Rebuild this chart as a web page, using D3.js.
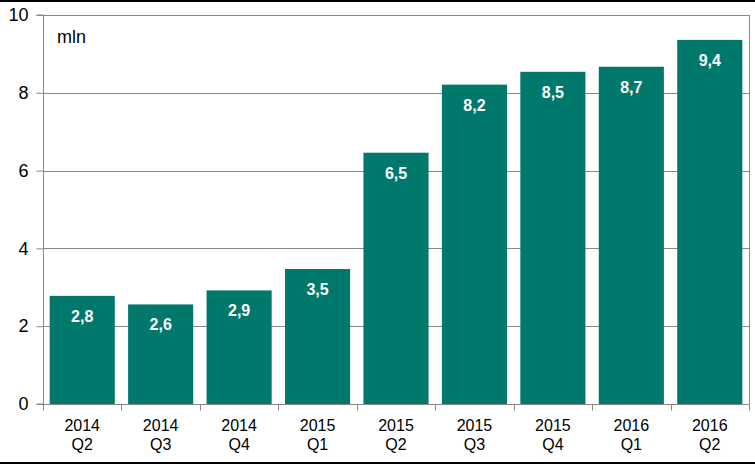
<!DOCTYPE html>
<html><head><meta charset="utf-8">
<script src="https://cdn.jsdelivr.net/npm/d3@7"></script>
<style>body{margin:0;background:#fff}svg{display:block}</style>
</head><body>
<script>
const years = ["2014","2014","2014","2015","2015","2015","2015","2016","2016"];
const quarters = ["Q2","Q3","Q4","Q1","Q2","Q3","Q4","Q1","Q2"];
const values = [2.78, 2.56, 2.92, 3.47, 6.46, 8.21, 8.54, 8.67, 9.36];
const yTicks = [0, 2, 4, 6, 8, 10];
const unitLabel = "mln";

const W = 755, H = 464;
const m = {left: 43, right: 6, top: 15, bottom: 60};
const svg = d3.select("body").append("svg").attr("width", W).attr("height", H);
const font = "Arial, 'Liberation Sans', sans-serif";

const cats = values.map((d,i)=>i);
const x = d3.scaleBand().domain(cats).range([m.left, W - m.right]).paddingInner(0.17).paddingOuter(0.085);
const y = d3.scaleLinear().domain([0, 10]).range([H - m.bottom, m.top]);

// border lines
svg.append("rect").attr("x",0).attr("y",0).attr("width",W).attr("height",2).attr("fill","#000");
svg.append("rect").attr("x",0).attr("y",H-2).attr("width",W).attr("height",2).attr("fill","#000");

// gridlines
svg.append("g").selectAll("line").data(yTicks.filter(t=>t>0)).join("line")
  .attr("x1", m.left).attr("x2", W - m.right)
  .attr("y1", d=>Math.round(y(d))+0.5).attr("y2", d=>Math.round(y(d))+0.5)
  .attr("stroke", "#888").attr("stroke-width", 1);
// right border
svg.append("line").attr("x1", W-m.right+0.5).attr("x2", W-m.right+0.5)
  .attr("y1", y(10)).attr("y2", y(0)).attr("stroke","#888");

// bars
svg.append("g").selectAll("rect").data(values).join("rect")
  .attr("x", (d,i)=>x(i)).attr("width", x.bandwidth())
  .attr("y", d=>y(d)).attr("height", d=>y(0)-y(d))
  .attr("fill", "#00796C");

// value labels
const fmt = d3.format(".1f");
svg.append("g").selectAll("text").data(values).join("text")
  .attr("x", (d,i)=>x(i)+x.bandwidth()/2).attr("y", d=>y(d)+26)
  .attr("text-anchor","middle").attr("fill","#fff")
  .attr("font-family", font).attr("font-weight","bold").attr("font-size", 16)
  .text(d=>fmt(d).replace(".", ","));

// y axis
const yAxis = d3.axisLeft(y).tickValues(yTicks).tickSize(7).tickPadding(8).tickFormat(d=>d);
const gy = svg.append("g").attr("transform", `translate(${m.left+0.5},0)`).call(yAxis);
gy.selectAll("path, line").attr("stroke","#888");
gy.select(".domain").attr("d", `M-7,${y(10)}H0V${y(0)}H-7`);
gy.selectAll("text").attr("font-family", font).attr("font-size", 18).attr("fill","#000");

// x axis
const xb = svg.append("g").attr("transform", `translate(0,${Math.round(y(0))+0.5})`);
xb.append("line").attr("x1", m.left).attr("x2", W-m.right+0.5).attr("stroke","#888");
const bounds = d3.range(values.length+1).map(i=> m.left + i*(W-m.right-m.left)/values.length);
xb.selectAll(".tk").data(bounds).join("line").attr("class","tk")
  .attr("x1", d=>Math.round(d)+0.5).attr("x2", d=>Math.round(d)+0.5)
  .attr("y1", 0).attr("y2", 6).attr("stroke","#888");
const xl = xb.selectAll(".xl").data(cats).join("text").attr("class","xl")
  .attr("text-anchor","middle").attr("font-family", font).attr("font-size", 16).attr("fill","#000");
xl.append("tspan").attr("x", i=>x(i)+x.bandwidth()/2).attr("y", 26).text(i=>years[i]);
xl.append("tspan").attr("x", i=>x(i)+x.bandwidth()/2).attr("y", 45).text(i=>quarters[i]);

// unit label
svg.append("text").attr("x", 57).attr("y", 43).attr("font-family", font).attr("font-size", 18)
  .attr("fill","#000").text(unitLabel);
</script>
</body></html>
